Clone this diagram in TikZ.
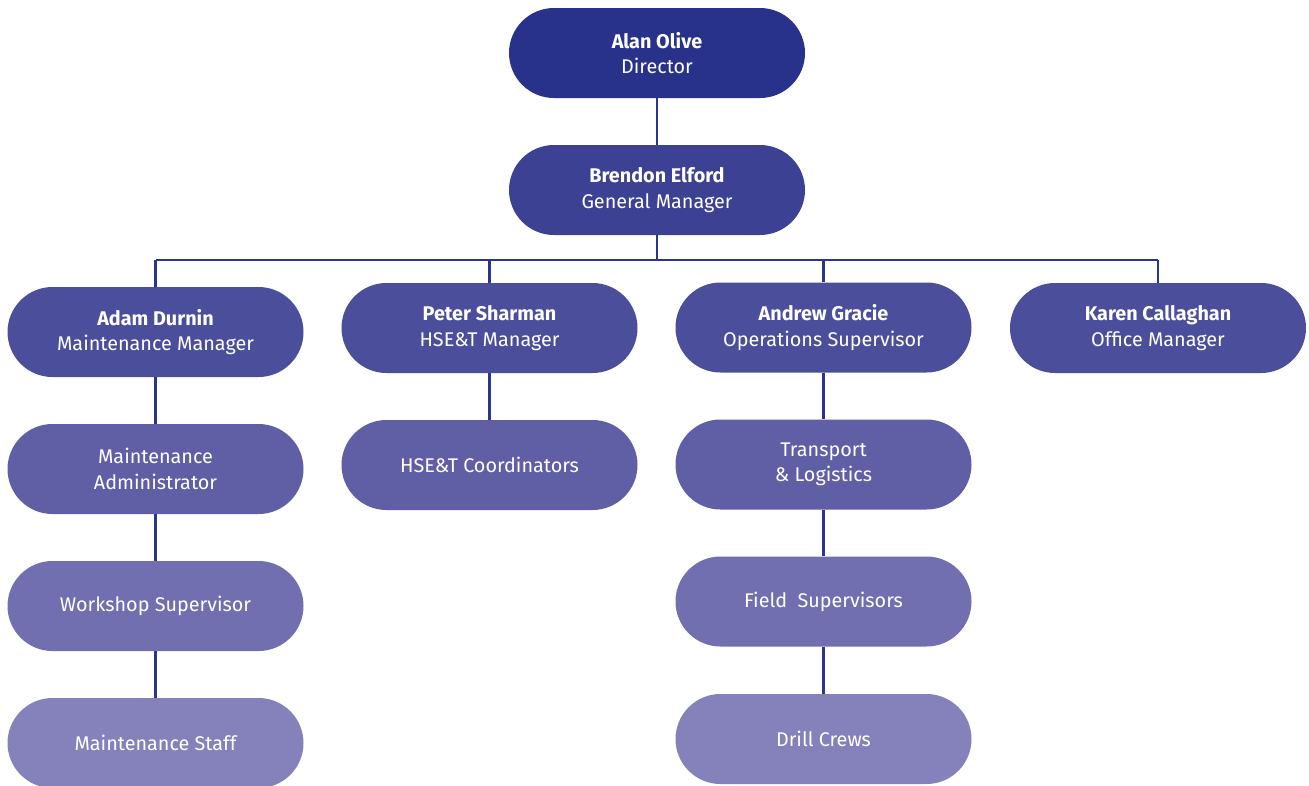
\documentclass[tikz,border=0pt]{standalone}
\usepackage{fontspec}
\setmainfont{Fira Sans}
\definecolor{cA}{HTML}{28328A}
\definecolor{cB}{HTML}{3C4193}
\definecolor{cC}{HTML}{4A4E9B}
\definecolor{cD}{HTML}{605EA5}
\definecolor{cE}{HTML}{716FAF}
\definecolor{cF}{HTML}{8581BA}
\definecolor{cL}{HTML}{2B3590}
\tikzset{
  pill/.style={rectangle, rounded corners=45pt, minimum width=296pt, minimum height=90pt,
    inner sep=0pt, text=white, align=center, font=\fontsize{19.8}{25.5}\selectfont},
  lA/.style={pill, fill=cA},
  lB/.style={pill, fill=cB},
  lC/.style={pill, fill=cC},
  lD/.style={pill, fill=cD},
  lE/.style={pill, fill=cE},
  lF/.style={pill, fill=cF},
  link/.style={draw=cL, line width=2.5pt}
}
\begin{document}
\begin{tikzpicture}[x=1pt,y=-1pt]
\useasboundingbox[fill=white] (0,0) rectangle (1309,785);
\coordinate (busL) at (155.5,260);
\coordinate (busR) at (1158,260);
\coordinate (busM) at (657,260);
\coordinate (busP) at (489.5,260);
\coordinate (busG) at (823.5,260);

\node[lA] (alan) at (657,53) {\textbf{Alan Olive}\\Director};
\node[lB] (brendon) at (657,190) {\textbf{Brendon Elford}\\General Manager};
\node[lC] (adam) at (155.5,332) {\textbf{Adam Durnin}\\Maintenance Manager};
\node[lC] (peter) at (489.5,328) {\textbf{Peter Sharman}\\HSE\&T Manager};
\node[lC] (andrew) at (823.5,327.5) {\textbf{Andrew Gracie}\\Operations Supervisor};
\node[lC] (karen) at (1158,328) {\textbf{Karen Callaghan}\\Office Manager};
\node[lD] (madmin) at (155.5,469) {Maintenance\\Administrator};
\node[lD] (hsec) at (489.5,465) {HSE\&T Coordinators};
\node[lD] (trans) at (823.5,464.5) {Transport\\\& Logistics};
\node[lE] (work) at (155.5,606) {Workshop Supervisor};
\node[lE] (field) at (823.5,601.5) {Field\ \ Supervisors};
\node[lF] (mstaff) at (155.5,743) {Maintenance Staff};
\node[lF] (drill) at (823.5,739) {Drill Crews};

\draw[link] (alan.south) -- (brendon.north);
\draw[link] (brendon.south) -- (busM);
\draw[link] (busL) -- (busR);
\draw[link] (busL) -- (adam.north);
\draw[link] (busP) -- (peter.north);
\draw[link] (busG) -- (andrew.north);
\draw[link] (busR) -- (karen.north);
\draw[link] (adam.south) -- (madmin.north);
\draw[link] (madmin.south) -- (work.north);
\draw[link] (work.south) -- (mstaff.north);
\draw[link] (peter.south) -- (hsec.north);
\draw[link] (andrew.south) -- (trans.north);
\draw[link] (trans.south) -- (field.north);
\draw[link] (field.south) -- (drill.north);
\end{tikzpicture}
\end{document}
